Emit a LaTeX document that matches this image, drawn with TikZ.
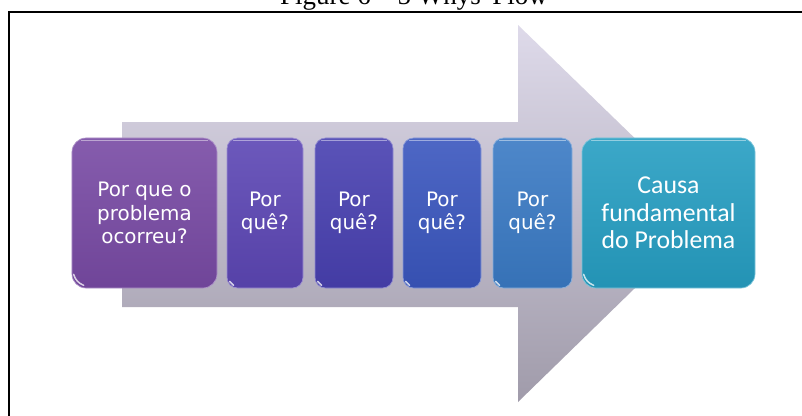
\documentclass[tikz,border=0pt]{standalone}
\usepackage{fontspec}
\usepackage{tikz}
\usepackage{xcolor}
\newfontfamily\boxfont{DejaVu Sans}
\newfontfamily\rootfont{Carlito}
\newfontfamily\titlefont{Liberation Serif}

\definecolor{arrowtop}{RGB}{222,218,234}
\definecolor{arrowbot}{RGB}{160,155,170}
\definecolor{whyA}{RGB}{120,74,164}
\definecolor{whyB}{RGB}{92,70,180}
\definecolor{whyC}{RGB}{72,64,176}
\definecolor{whyD}{RGB}{58,86,190}
\definecolor{whyE}{RGB}{58,122,196}
\definecolor{rootcol}{RGB}{38,158,194}

\tikzset{
  whybox/.style={rounded corners=9pt, top color=#1!90!white, bottom color=#1!93!black,
    draw=#1!60!white, line width=0.6pt, text=white, align=center, inner sep=0pt,
    minimum height=4.5cm, font=\boxfont\fontsize{17}{20}\selectfont},
  rootbox/.style={whybox=#1, rounded corners=12pt, font=\rootfont\fontsize{22}{23.5}\selectfont},
  gloss/.style={white, opacity=0.45, line width=1.4pt, line cap=round},
  cornerglow/.style={white, opacity=0.75, line width=1.3pt, line cap=round}
}

\begin{document}
\begin{tikzpicture}[x=0.03cm,y=-0.03cm]
\useasboundingbox (0,0) rectangle (802,416);
\clip (0,0) rectangle (802,416);
\fill[white] (0,0) rectangle (802,416);

% caption and frame
\node[anchor=base, inner sep=0pt] (title) at (414,4.5) {\titlefont\fontsize{23}{23}\selectfont Figure 6 – 5 Whys' Flow};
\draw[line width=1.5pt] (9,416) -- (9,12) -- (802,12);

% big arrow behind the boxes
\shade[top color=arrowtop, bottom color=arrowbot]
  (122,122) -- (518,122) -- (518,25) -- (712,213) -- (518,402) -- (518,307) -- (122,307) -- cycle;

% the five whys
\node[whybox=whyA, minimum width=4.35cm, rounded corners=12pt] (b1) at (144.5,213) {Por que o\\problema\\ocorreu?};
\node[whybox=whyB, minimum width=2.28cm] (b2) at (265,213) {Por\\quê?};
\node[whybox=whyC, minimum width=2.34cm] (b3) at (354,213) {Por\\quê?};
\node[whybox=whyD, minimum width=2.34cm] (b4) at (442,213) {Por\\quê?};
\node[whybox=whyE, minimum width=2.37cm] (b5) at (532.5,213) {Por\\quê?};
\node[rootbox=rootcol, minimum width=5.19cm] (root) at (668.5,213) {Causa\\fundamental\\do Problema};

% highlights
\draw[gloss] ([shift={(10,3)}]b1.north west) -- ([shift={(-10,3)}]b1.north east);
\draw[gloss] ([shift={(7,3)}]b2.north west) -- ([shift={(-7,3)}]b2.north east);
\draw[gloss] ([shift={(7,3)}]b3.north west) -- ([shift={(-7,3)}]b3.north east);
\draw[gloss] ([shift={(7,3)}]b4.north west) -- ([shift={(-7,3)}]b4.north east);
\draw[gloss] ([shift={(7,3)}]b5.north west) -- ([shift={(-7,3)}]b5.north east);
\draw[gloss] ([shift={(10,3)}]root.north west) -- ([shift={(-10,3)}]root.north east);

\draw[cornerglow] ([shift={(2,-14)}]b1.south west) to[bend right=25] ([shift={(12,-3)}]b1.south west);
\draw[cornerglow] ([shift={(3,-7)}]b2.south west) -- ([shift={(7,-3)}]b2.south west);
\draw[cornerglow] ([shift={(3,-7)}]b3.south west) -- ([shift={(7,-3)}]b3.south west);
\draw[cornerglow] ([shift={(3,-7)}]b4.south west) -- ([shift={(7,-3)}]b4.south west);
\draw[cornerglow] ([shift={(3,-7)}]b5.south west) -- ([shift={(7,-3)}]b5.south west);
\draw[cornerglow] ([shift={(2,-14)}]root.south west) to[bend right=25] ([shift={(12,-3)}]root.south west);
\end{tikzpicture}
\end{document}
